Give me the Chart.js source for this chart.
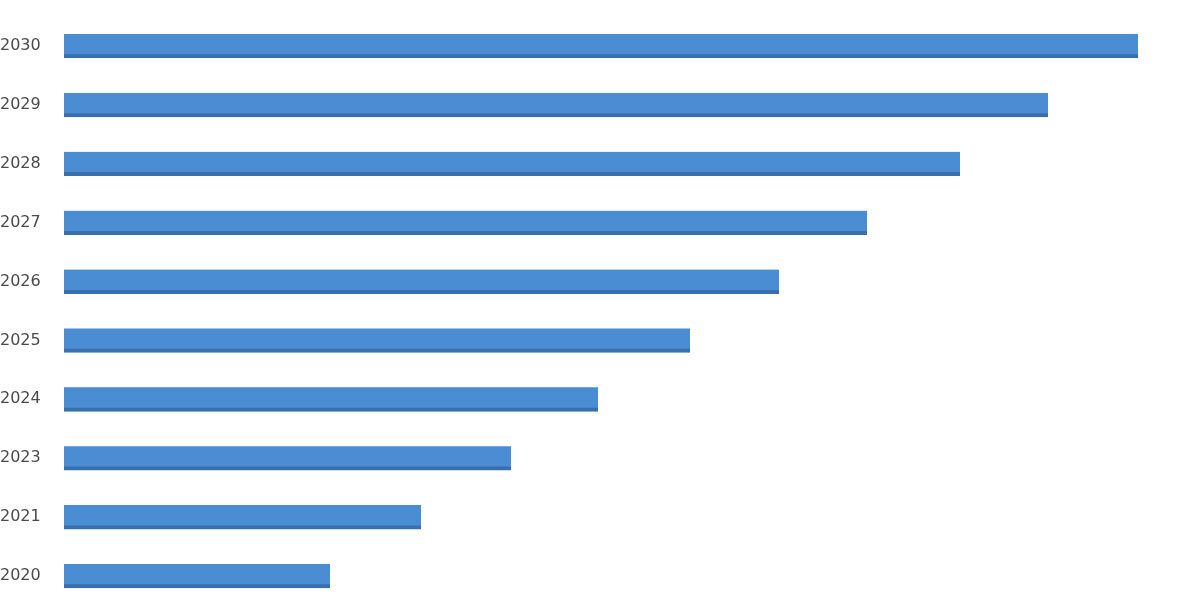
<!DOCTYPE html>
<html>
<head>
<meta charset="utf-8">
<style>
  html, body { margin:0; padding:0; background:#fff; }
  #wrap { width:1200px; height:600px; }
</style>
<script src="https://cdn.jsdelivr.net/npm/chart.js@4/dist/chart.umd.min.js"></script>
</head>
<body>
<div id="wrap"><canvas id="c"></canvas></div>
<script>
// years, top to bottom as in the picture
const years = ['2030','2029','2028','2027','2026','2025','2024','2023','2021','2020'];
// bar lengths (arbitrary units)
const values = [107.4, 98.4, 89.6, 80.3, 71.5, 62.6, 53.4, 44.7, 35.7, 26.6];
const axisMax = 112;

const ctx = document.getElementById('c').getContext('2d');
new Chart(ctx, {
  type: 'bar',
  data: {
    labels: years,
    datasets: [{
      data: values,
      backgroundColor: '#4b8dd3',
      borderColor: '#3a6fae',
      borderWidth: {top:0, right:0, bottom:4, left:0},
      borderSkipped: false,
      barThickness: 24,
      clip: false
    }]
  },
  options: {
    indexAxis: 'y',
    responsive: true,
    maintainAspectRatio: false,
    animation: false,
    layout: { padding: {top:46, bottom:24, right:16, left:0} },
    scales: {
      x: { display:false, min:0, max:axisMax },
      y: {
        offset: false,
        grid: { display:false },
        border: { display:false },
        afterFit: s => { s.width = 64; },
        ticks: {
          crossAlign: 'far',
          color: '#4a4a4a',
          padding: 0,
          font: { family: 'DejaVu Sans', size: 16 }
        }
      }
    },
    plugins: { legend:{display:false}, tooltip:{enabled:false} }
  }
});
</script>
</body>
</html>
